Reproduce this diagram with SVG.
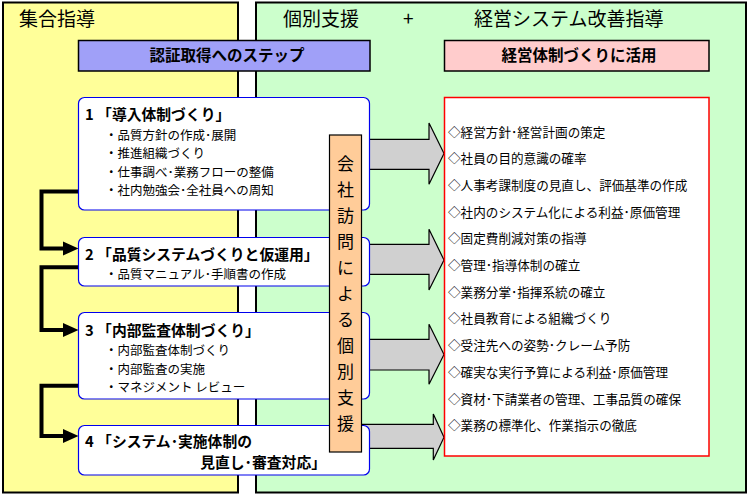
<svg xmlns="http://www.w3.org/2000/svg" width="749" height="496" viewBox="0 0 749 496">
<defs>
<style>
text{font-family:"Noto Sans CJK JP","Noto Sans CJK SC",sans-serif;fill:#000}
.panel{stroke:#000;stroke-width:2}
.head{font-size:19px}
.bar{font-size:15.5px;font-weight:bold;text-anchor:middle}
.node{fill:#fff;stroke:#0000ee;stroke-width:1.2}
.ttl{font-size:14.8px;font-weight:bold}
.bul{font-size:12.5px}
.item{font-size:12.6px}
.blk{fill:#d0d0d0;stroke:#000;stroke-width:1.2}
.conn{fill:none;stroke:#000;stroke-width:4}
.vt{font-size:17px;text-anchor:middle}
</style>
</defs>
<rect width="749" height="496" fill="#fff"/>
<g id="panel-left">
<rect class="panel" x="3" y="2.5" width="235" height="490" fill="#ffff99"/>
<text class="head" x="19" y="25.5">集合指導</text>
</g>
<g id="panel-right">
<rect class="panel" x="256" y="2.5" width="490" height="490" fill="#ccffcc"/>
<text class="head" x="283" y="25.5">個別支援</text>
<text class="head" x="403" y="25.5">+</text>
<text class="head" x="474" y="25.5">経営システム改善指導</text>
</g>
<g id="bar-steps">
<rect x="78.5" y="40.5" width="291.5" height="30.5" fill="#a0a0f8" stroke="#000" stroke-width="1.5"/>
<text class="bar" x="227" y="60.5">認証取得へのステップ</text>
</g>
<g id="bar-use">
<rect x="444.5" y="40.5" width="264.5" height="30.5" fill="#ffcccc" stroke="#000" stroke-width="1.5"/>
<text class="bar" x="579" y="60.5">経営体制づくりに活用</text>
</g>
<g id="block-arrows">
<polygon class="blk" points="362,139.3 429,139.3 429,123 444,153.5 429,184.3 429,169.3 362,169.3"/>
<polygon class="blk" points="362,244.3 429,244.3 429,229.3 444,260 429,290 429,274.3 362,274.3"/>
<polygon class="blk" points="362,339.3 429,339.3 429,324.3 444,354.5 429,384.3 429,370 362,370"/>
<polygon class="blk" points="362,424.3 433.3,424.3 433.3,414 444,437.3 433.3,460 433.3,448.3 362,448.3"/>
</g>
<g id="connectors">
<path class="conn" d="M78,191.5 H41.5 V248.5 H65"/>
<polygon points="63,241.5 78.5,248.5 63,255.5"/>
<path class="conn" d="M78,267.3 H41.5 V330 H65"/>
<polygon points="63,323 78.5,330 63,337"/>
<path class="conn" d="M78,385.7 H41.5 V436 H65"/>
<polygon points="63,429 78.5,436 63,443"/>
</g>
<g id="step1">
<rect class="node" x="78.5" y="97.5" width="291" height="112.5" rx="6"/>
<text class="ttl" x="85" y="120">1 「導入体制づくり」</text>
<text class="bul" x="105" y="139.5">・品質方針の作成･展開</text>
<text class="bul" x="105" y="158">・推進組織づくり</text>
<text class="bul" x="105" y="176.5">・仕事調べ･業務フローの整備</text>
<text class="bul" x="105" y="195">・社内勉強会･全社員への周知</text>
</g>
<g id="step2">
<rect class="node" x="78.5" y="237.5" width="291" height="48.5" rx="6"/>
<text class="ttl" x="85" y="259.5">2 「品質システムづくりと仮運用」</text>
<text class="bul" x="105" y="279">・品質マニュアル･手順書の作成</text>
</g>
<g id="step3">
<rect class="node" x="78.5" y="312.5" width="291" height="86.5" rx="6"/>
<text class="ttl" x="85" y="335.5">3 「内部監査体制づくり」</text>
<text class="bul" x="105" y="355">・内部監査体制づくり</text>
<text class="bul" x="105" y="374">・内部監査の実施</text>
<text class="bul" x="105" y="391.5">・マネジメント レビュー</text>
</g>
<g id="step4">
<rect class="node" x="78.5" y="425.5" width="291" height="49.5" rx="6"/>
<text class="ttl" x="85" y="446.7">4 「システム･実施体制の</text>
<text class="ttl" x="326" y="467.5" text-anchor="end">見直し･審査対応」</text>
</g>
<g id="visit-support">
<rect x="329.5" y="135" width="32" height="317" fill="#ffcc99" stroke="#000" stroke-width="1.2"/>
<text class="vt" x="345.5" y="169.8">会</text>
<text class="vt" x="345.5" y="195.8">社</text>
<text class="vt" x="345.5" y="221.8">訪</text>
<text class="vt" x="345.5" y="247.8">問</text>
<text class="vt" x="345.5" y="273.8">に</text>
<text class="vt" x="345.5" y="299.8">よ</text>
<text class="vt" x="345.5" y="325.8">る</text>
<text class="vt" x="345.5" y="351.8">個</text>
<text class="vt" x="345.5" y="377.8">別</text>
<text class="vt" x="345.5" y="403.8">支</text>
<text class="vt" x="345.5" y="429.8">援</text>
</g>
<g id="results">
<rect x="444.5" y="97.5" width="264.5" height="358.5" fill="#fff" stroke="#ff0000" stroke-width="1.5"/>
<text class="item" x="448" y="136.5">◇経営方針･経営計画の策定</text>
<text class="item" x="448" y="163.2">◇社員の目的意識の確率</text>
<text class="item" x="448" y="189.9">◇人事考課制度の見直し、評価基準の作成</text>
<text class="item" x="448" y="216.6">◇社内のシステム化による利益･原価管理</text>
<text class="item" x="448" y="243.3">◇固定費削減対策の指導</text>
<text class="item" x="448" y="270">◇管理･指導体制の確立</text>
<text class="item" x="448" y="296.7">◇業務分掌･指揮系統の確立</text>
<text class="item" x="448" y="323.4">◇社員教育による組織づくり</text>
<text class="item" x="448" y="350.1">◇受注先への姿勢･クレーム予防</text>
<text class="item" x="448" y="376.8">◇確実な実行予算による利益･原価管理</text>
<text class="item" x="448" y="403.5">◇資材･下請業者の管理、工事品質の確保</text>
<text class="item" x="448" y="430.2">◇業務の標準化、作業指示の徹底</text>
</g>
</svg>
